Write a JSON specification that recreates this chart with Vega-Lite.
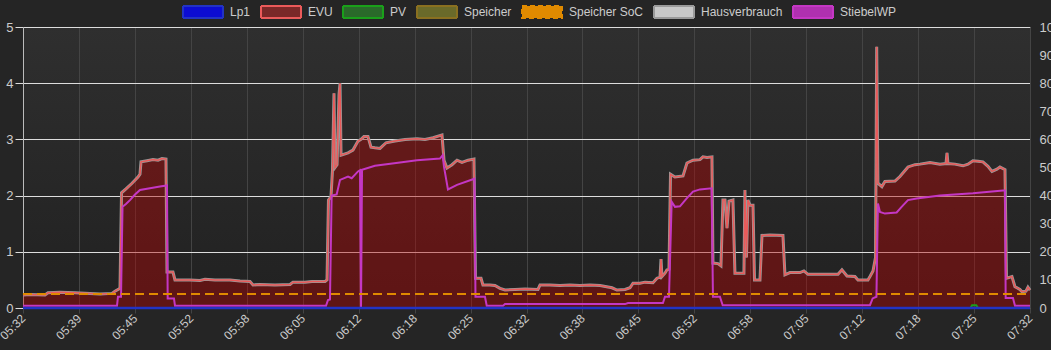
{
  "$schema": "https://vega.github.io/schema/vega-lite/v6.json",
  "width": 1007,
  "height": 281,
  "autosize": {"type": "none"},
  "padding": {"left": 23, "top": 27, "right": 21, "bottom": 42},
  "background": "#252525",
  "config": {
    "view": {"stroke": null, "fill": {"gradient": "linear", "x1": 0, "y1": 0, "x2": 0, "y2": 1, "stops": [{"offset": 0, "color": "#2f2f2f"}, {"offset": 1, "color": "#212121"}]}},
    "font": "Liberation Sans"
  },
  "datasets": {
    "hv": [
      {"t":0,"evu":0.23,"haus":0.23},{"t":0.83,"evu":0.24,"haus":0.24},{"t":2.62,"evu":0.23,"haus":0.23},{"t":2.98,"evu":0.27,"haus":0.27},{"t":4.41,"evu":0.28,"haus":0.28},{"t":6.2,"evu":0.27,"haus":0.27},{"t":7.98,"evu":0.26,"haus":0.26},{"t":9.18,"evu":0.25,"haus":0.25},{"t":10.61,"evu":0.26,"haus":0.26},{"t":10.96,"evu":0.3,"haus":0.3},{"t":11.32,"evu":0.33,"haus":0.33},{"t":11.56,"evu":0.35,"haus":0.35},{"t":11.74,"evu":2.05,"haus":2.05},{"t":12.27,"evu":2.12,"haus":2.12},{"t":12.99,"evu":2.22,"haus":2.22},{"t":13.7,"evu":2.33,"haus":2.33},{"t":13.94,"evu":2.38,"haus":2.38},{"t":14.06,"evu":2.6,"haus":2.6},{"t":14.78,"evu":2.62,"haus":2.62},{"t":15.49,"evu":2.64,"haus":2.64},{"t":16.09,"evu":2.63,"haus":2.63},{"t":16.56,"evu":2.66,"haus":2.66},{"t":17.04,"evu":2.65,"haus":2.65},{"t":17.16,"evu":0.64,"haus":0.64},{"t":17.87,"evu":0.64,"haus":0.64},{"t":18.11,"evu":0.5,"haus":0.5},{"t":19.9,"evu":0.5,"haus":0.5},{"t":21.09,"evu":0.49,"haus":0.49},{"t":21.69,"evu":0.51,"haus":0.51},{"t":22.88,"evu":0.5,"haus":0.5},{"t":24.67,"evu":0.5,"haus":0.5},{"t":25.86,"evu":0.48,"haus":0.48},{"t":27.05,"evu":0.47,"haus":0.47},{"t":27.41,"evu":0.41,"haus":0.41},{"t":28.24,"evu":0.42,"haus":0.42},{"t":30.03,"evu":0.41,"haus":0.41},{"t":31.82,"evu":0.42,"haus":0.42},{"t":32.17,"evu":0.46,"haus":0.46},{"t":33.6,"evu":0.46,"haus":0.46},{"t":34.44,"evu":0.47,"haus":0.47},{"t":35.99,"evu":0.47,"haus":0.47},{"t":36.23,"evu":0.5,"haus":0.5},{"t":36.4,"evu":1.92,"haus":1.92},{"t":36.7,"evu":1.98,"haus":1.98},{"t":36.88,"evu":2.45,"haus":2.45},{"t":37.06,"evu":3.82,"haus":3.82},{"t":37.18,"evu":2.5,"haus":2.5},{"t":37.42,"evu":2.55,"haus":2.55},{"t":37.66,"evu":3.8,"haus":3.8},{"t":37.78,"evu":4.0,"haus":4.0},{"t":37.9,"evu":2.72,"haus":2.72},{"t":38.73,"evu":2.76,"haus":2.76},{"t":39.32,"evu":2.81,"haus":2.81},{"t":39.92,"evu":2.97,"haus":2.97},{"t":40.28,"evu":3.0,"haus":3.0},{"t":40.63,"evu":3.05,"haus":3.05},{"t":41.11,"evu":3.05,"haus":3.05},{"t":41.47,"evu":2.86,"haus":2.86},{"t":41.94,"evu":2.85,"haus":2.85},{"t":42.54,"evu":2.84,"haus":2.84},{"t":43.26,"evu":2.94,"haus":2.94},{"t":44.33,"evu":2.97,"haus":2.97},{"t":45.52,"evu":3.0,"haus":3.0},{"t":46.95,"evu":3.01,"haus":3.01},{"t":47.9,"evu":3.0,"haus":3.0},{"t":48.86,"evu":3.03,"haus":3.03},{"t":49.93,"evu":3.08,"haus":3.08},{"t":50.17,"evu":2.63,"haus":2.63},{"t":50.52,"evu":2.49,"haus":2.49},{"t":51.12,"evu":2.55,"haus":2.55},{"t":51.72,"evu":2.63,"haus":2.63},{"t":52.31,"evu":2.59,"haus":2.59},{"t":53.03,"evu":2.63,"haus":2.63},{"t":53.74,"evu":2.65,"haus":2.65},{"t":53.92,"evu":0.53,"haus":0.53},{"t":54.58,"evu":0.53,"haus":0.53},{"t":54.81,"evu":0.41,"haus":0.41},{"t":55.65,"evu":0.41,"haus":0.41},{"t":56.24,"evu":0.4,"haus":0.4},{"t":56.84,"evu":0.35,"haus":0.35},{"t":57.44,"evu":0.32,"haus":0.32},{"t":58.63,"evu":0.33,"haus":0.33},{"t":59.82,"evu":0.34,"haus":0.34},{"t":61.37,"evu":0.33,"haus":0.33},{"t":61.61,"evu":0.41,"haus":0.41},{"t":62.8,"evu":0.41,"haus":0.41},{"t":63.99,"evu":0.4,"haus":0.4},{"t":65.18,"evu":0.41,"haus":0.41},{"t":66.37,"evu":0.4,"haus":0.4},{"t":67.56,"evu":0.41,"haus":0.41},{"t":68.76,"evu":0.4,"haus":0.4},{"t":70.19,"evu":0.36,"haus":0.36},{"t":70.78,"evu":0.32,"haus":0.32},{"t":71.74,"evu":0.33,"haus":0.33},{"t":72.33,"evu":0.36,"haus":0.36},{"t":72.69,"evu":0.44,"haus":0.44},{"t":73.52,"evu":0.44,"haus":0.44},{"t":74.12,"evu":0.46,"haus":0.46},{"t":75.07,"evu":0.45,"haus":0.45},{"t":75.55,"evu":0.53,"haus":0.53},{"t":75.91,"evu":0.55,"haus":0.55},{"t":76.03,"evu":0.87,"haus":0.87},{"t":76.14,"evu":0.56,"haus":0.56},{"t":76.5,"evu":0.62,"haus":0.62},{"t":76.74,"evu":0.68,"haus":0.68},{"t":76.98,"evu":0.69,"haus":0.69},{"t":77.16,"evu":2.38,"haus":2.38},{"t":77.69,"evu":2.33,"haus":2.33},{"t":78.65,"evu":2.35,"haus":2.35},{"t":79.12,"evu":2.58,"haus":2.58},{"t":79.84,"evu":2.63,"haus":2.63},{"t":80.67,"evu":2.64,"haus":2.64},{"t":81.03,"evu":2.69,"haus":2.69},{"t":81.51,"evu":2.68,"haus":2.68},{"t":82.1,"evu":2.69,"haus":2.69},{"t":82.22,"evu":0.8,"haus":0.8},{"t":82.82,"evu":0.79,"haus":0.79},{"t":83.17,"evu":0.75,"haus":0.75},{"t":83.41,"evu":1.92,"haus":1.92},{"t":83.65,"evu":1.92,"haus":1.92},{"t":83.89,"evu":1.42,"haus":1.42},{"t":84.13,"evu":1.9,"haus":1.9},{"t":84.6,"evu":1.92,"haus":1.92},{"t":84.84,"evu":0.62,"haus":0.62},{"t":85.91,"evu":0.62,"haus":0.62},{"t":86.03,"evu":2.1,"haus":2.1},{"t":86.21,"evu":0.9,"haus":0.9},{"t":86.39,"evu":1.92,"haus":1.92},{"t":86.63,"evu":1.83,"haus":1.83},{"t":86.99,"evu":1.83,"haus":1.83},{"t":87.17,"evu":0.5,"haus":0.5},{"t":87.82,"evu":0.5,"haus":0.5},{"t":88.06,"evu":1.29,"haus":1.29},{"t":89.01,"evu":1.3,"haus":1.3},{"t":90.56,"evu":1.29,"haus":1.29},{"t":90.8,"evu":0.59,"haus":0.59},{"t":91.39,"evu":0.63,"haus":0.63},{"t":92.59,"evu":0.63,"haus":0.63},{"t":93.06,"evu":0.66,"haus":0.66},{"t":93.54,"evu":0.6,"haus":0.6},{"t":94.97,"evu":0.6,"haus":0.6},{"t":97.12,"evu":0.6,"haus":0.6},{"t":97.59,"evu":0.68,"haus":0.68},{"t":98.19,"evu":0.57,"haus":0.57},{"t":99.14,"evu":0.56,"haus":0.56},{"t":99.5,"evu":0.5,"haus":0.5},{"t":100.69,"evu":0.5,"haus":0.5},{"t":100.93,"evu":0.56,"haus":0.56},{"t":101.29,"evu":0.66,"haus":0.66},{"t":101.59,"evu":0.9,"haus":0.9},{"t":101.73,"evu":4.65,"haus":4.65},{"t":101.88,"evu":2.22,"haus":2.22},{"t":102.35,"evu":2.16,"haus":2.16},{"t":102.71,"evu":2.25,"haus":2.25},{"t":103.91,"evu":2.26,"haus":2.26},{"t":104.5,"evu":2.34,"haus":2.34},{"t":105.46,"evu":2.51,"haus":2.51},{"t":106.29,"evu":2.55,"haus":2.55},{"t":106.89,"evu":2.56,"haus":2.56},{"t":108.08,"evu":2.59,"haus":2.59},{"t":109.27,"evu":2.56,"haus":2.56},{"t":109.99,"evu":2.57,"haus":2.57},{"t":110.11,"evu":2.76,"haus":2.76},{"t":110.22,"evu":2.57,"haus":2.57},{"t":111.06,"evu":2.56,"haus":2.56},{"t":112.02,"evu":2.53,"haus":2.53},{"t":112.61,"evu":2.56,"haus":2.56},{"t":113.2,"evu":2.62,"haus":2.62},{"t":113.8,"evu":2.61,"haus":2.61},{"t":114.39,"evu":2.6,"haus":2.6},{"t":114.99,"evu":2.52,"haus":2.52},{"t":115.47,"evu":2.43,"haus":2.43},{"t":116.06,"evu":2.47,"haus":2.47},{"t":116.42,"evu":2.51,"haus":2.51},{"t":117.02,"evu":2.46,"haus":2.46},{"t":117.2,"evu":0.53,"haus":0.53},{"t":117.85,"evu":0.56,"haus":0.56},{"t":118.21,"evu":0.38,"haus":0.38},{"t":118.8,"evu":0.33,"haus":0.33},{"t":119.04,"evu":0.29,"haus":0.29},{"t":119.52,"evu":0.3,"haus":0.3},{"t":119.76,"evu":0.37,"haus":0.37},{"t":120,"evu":0.32,"haus":0.32}
    ],
    "wp": [
      {"t":0,"v":0.04},{"t":11.2,"v":0.04},{"t":11.32,"v":0.2},{"t":11.68,"v":0.2},{"t":11.86,"v":1.8},{"t":12.27,"v":1.85},{"t":12.75,"v":1.92},{"t":13.35,"v":2.02},{"t":13.94,"v":2.1},{"t":15.13,"v":2.13},{"t":16.32,"v":2.16},{"t":17.16,"v":2.18},{"t":17.24,"v":0.17},{"t":17.99,"v":0.17},{"t":18.11,"v":0.04},{"t":36.11,"v":0.04},{"t":36.34,"v":0.14},{"t":36.58,"v":0.15},{"t":36.78,"v":2.0},{"t":37.38,"v":2.02},{"t":37.78,"v":2.28},{"t":38.73,"v":2.34},{"t":39.17,"v":2.31},{"t":39.92,"v":2.43},{"t":40.16,"v":2.45},{"t":40.28,"v":0},{"t":40.4,"v":2.46},{"t":41.94,"v":2.53},{"t":44.92,"v":2.59},{"t":46.95,"v":2.63},{"t":49.69,"v":2.66},{"t":50.01,"v":2.72},{"t":50.17,"v":2.51},{"t":50.64,"v":2.11},{"t":51.72,"v":2.19},{"t":53.62,"v":2.29},{"t":53.8,"v":2.3},{"t":53.92,"v":0.2},{"t":55.05,"v":0.2},{"t":55.26,"v":0.04},{"t":57.2,"v":0.04},{"t":57.44,"v":0.07},{"t":71.74,"v":0.07},{"t":72.1,"v":0.09},{"t":76.26,"v":0.09},{"t":76.5,"v":0.2},{"t":76.98,"v":0.2},{"t":77.3,"v":1.89},{"t":77.69,"v":1.8},{"t":78.29,"v":1.81},{"t":79.09,"v":1.95},{"t":79.84,"v":2.07},{"t":80.67,"v":2.11},{"t":82.06,"v":2.13},{"t":82.22,"v":0.2},{"t":83.05,"v":0.2},{"t":83.38,"v":0.05},{"t":100.93,"v":0.05},{"t":101.25,"v":0.17},{"t":101.7,"v":0.2},{"t":101.88,"v":1.86},{"t":102.12,"v":1.71},{"t":102.71,"v":1.68},{"t":104.11,"v":1.7},{"t":104.7,"v":1.8},{"t":105.46,"v":1.92},{"t":106.5,"v":1.95},{"t":109.27,"v":2.0},{"t":113.2,"v":2.04},{"t":116.78,"v":2.09},{"t":117.02,"v":2.09},{"t":117.1,"v":0.18},{"t":117.97,"v":0.18},{"t":118.21,"v":0.04},{"t":120,"v":0.04}
    ],
    "lp1": [{"t":0,"v":0},{"t":120,"v":0}],
    "pv": [{"t":0,"v":0},{"t":112.9,"v":0},{"t":113.1,"v":0.05},{"t":113.6,"v":0.05},{"t":113.8,"v":0},{"t":120,"v":0}],
    "sp": [{"t":0,"v":0},{"t":120,"v":0}],
    "soc": [{"t":0,"v":5},{"t":120,"v":5}]
  },
  "layer": [
    {
      "layer": [
        {
          "data": {"name": "hv"},
          "mark": {"type": "area", "fill": "#b40505", "fillOpacity": 0.42},
          "encoding": {
            "x": {"field": "t", "type": "quantitative", "scale": {"domain": [0, 120], "nice": false, "zero": false},
              "axis": {"title": null, "values": [0, 6.6667, 13.3333, 20, 26.6667, 33.3333, 40, 46.6667, 53.3333, 60, 66.6667, 73.3333, 80, 86.6667, 93.3333, 100, 106.6667, 113.3333, 120],
                "labelExpr": "['05:32','05:39','05:45','05:52','05:58','06:05','06:12','06:18','06:25','06:32','06:38','06:45','06:52','06:58','07:05','07:12','07:18','07:25','07:32'][round(datum.value*18/120)]",
                "labelAngle": -45, "labelAlign": "right", "labelBaseline": "middle", "labelFontSize": 12, "labelColor": "#cccccc", "labelFont": "Liberation Sans",
                "labelPadding": 3, "labelFlush": false, "labelOverlap": false, "labelBound": false,
                "tickSize": 5, "tickColor": "#444444", "grid": true, "gridColor": "#444444", "domainColor": "#555555"}},
            "y": {"field": "evu", "type": "quantitative", "scale": {"domain": [0, 5], "nice": false},
              "axis": {"title": null, "values": [0, 1, 2, 3, 4, 5], "format": "d", "grid": true, "gridColor": "#dddddd", "tickColor": "#dddddd", "tickSize": 8,
                "domainColor": "#bbbbbb", "labelFontSize": 13, "labelColor": "#cccccc", "labelFont": "Liberation Sans", "labelPadding": 2, "labelFlush": false}}
          }
        },
        {
          "data": {"name": "sp"},
          "mark": {"type": "line", "strokeWidth": 2},
          "encoding": {
            "x": {"field": "t", "type": "quantitative"},
            "y": {"field": "v", "type": "quantitative"},
            "stroke": {"datum": "Speicher", "type": "nominal",
              "scale": {"domain": ["Lp1", "EVU", "PV", "Speicher", "Speicher SoC", "Hausverbrauch", "StiebelWP"],
                "range": ["#2233c4", "#ea5a5a", "#1aa01a", "#8a7020", "#e08a00", "#9a9a9a", "#c437c4"]},
              "legend": {"title": null, "orient": "none", "legendX": 159, "legendY": -36, "direction": "horizontal", "gridAlign": "none", "columnPadding": 6,
                "symbolType": "M-1,-0.3L1,-0.3L1,0.3L-1,0.3Z", "symbolSize": 1600, "symbolStrokeWidth": 2, "labelOffset": 6,
                "labelFontSize": 12, "labelColor": "#cccccc", "labelFont": "Liberation Sans", "padding": 0, "labelLimit": 300,
                "encode": {"symbols": {"update": {
                  "fill": {"signal": "['#0c0cd2','#7a2828','#2a6a2a','#6a6a2a','#e08a00','#c8c8c8','#b030b0'][indexof(['Lp1','EVU','PV','Speicher','Speicher SoC','Hausverbrauch','StiebelWP'], datum.value)]"},
                  "stroke": {"signal": "['#2a2aff','#a82222','#1aa01a','#8a6010','#f0a000','#e8e8e8','#d040d0'][indexof(['Lp1','EVU','PV','Speicher','Speicher SoC','Hausverbrauch','StiebelWP'], datum.value)]"},
                  "strokeDash": {"signal": "datum.value === 'Speicher SoC' ? [5, 3] : [1, 0]"},
                  "fillOpacity": {"value": 1},
                  "opacity": {"value": 1}
                }}}}}
          }
        },
        {
          "data": {"name": "hv"},
          "mark": {"type": "line", "strokeWidth": 3},
          "encoding": {
            "x": {"field": "t", "type": "quantitative"},
            "y": {"field": "haus", "type": "quantitative"},
            "stroke": {"datum": "Hausverbrauch", "type": "nominal"}
          }
        },
        {
          "data": {"name": "hv"},
          "mark": {"type": "line", "strokeWidth": 1.5},
          "encoding": {
            "x": {"field": "t", "type": "quantitative"},
            "y": {"field": "evu", "type": "quantitative"},
            "stroke": {"datum": "EVU", "type": "nominal"}
          }
        },
        {
          "data": {"name": "wp"},
          "mark": {"type": "line", "strokeWidth": 2},
          "encoding": {
            "x": {"field": "t", "type": "quantitative"},
            "y": {"field": "v", "type": "quantitative"},
            "stroke": {"datum": "StiebelWP", "type": "nominal"}
          }
        },
        {
          "data": {"name": "pv"},
          "mark": {"type": "line", "strokeWidth": 2},
          "encoding": {
            "x": {"field": "t", "type": "quantitative"},
            "y": {"field": "v", "type": "quantitative"},
            "stroke": {"datum": "PV", "type": "nominal"}
          }
        },
        {
          "data": {"name": "lp1"},
          "mark": {"type": "line", "strokeWidth": 2.5},
          "encoding": {
            "x": {"field": "t", "type": "quantitative"},
            "y": {"field": "v", "type": "quantitative"},
            "stroke": {"datum": "Lp1", "type": "nominal"}
          }
        }
      ]
    },
    {
      "data": {"name": "soc"},
      "mark": {"type": "line", "strokeWidth": 2, "strokeDash": [9, 5]},
      "encoding": {
        "x": {"field": "t", "type": "quantitative"},
        "y": {"field": "v", "type": "quantitative", "scale": {"domain": [0, 100], "nice": false},
          "axis": {"orient": "right", "title": null, "values": [0, 10, 20, 30, 40, 50, 60, 70, 80, 90, 100], "grid": false, "ticks": false,
            "domainColor": "#444444", "labelPadding": 9, "labelFontSize": 13, "labelColor": "#cccccc", "labelFont": "Liberation Sans", "labelFlush": false}},
        "stroke": {"datum": "Speicher SoC", "type": "nominal"}
      }
    }
  ],
  "resolve": {"scale": {"y": "independent"}}
}
